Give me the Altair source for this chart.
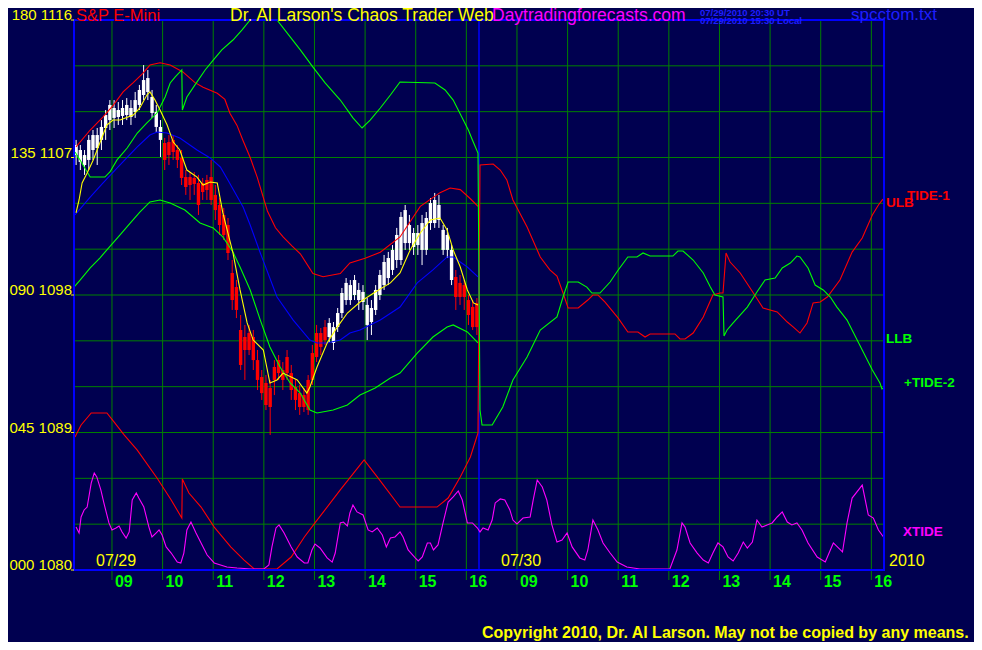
import altair as alt
import pandas as pd

# ---------------- data (clock hours, price) ----------------
ULB_DAY1 = [(8.29,1107.7),(8.57,1108.8),(8.82,1109.65),(9.02,1110.4),(9.22,1111.3),(9.42,1111.9),
            (9.61,1112.5),(9.75,1113.05),(9.95,1113.2),(10.15,1113.05),(10.40,1112.6),(10.64,1111.9),
            (10.80,1111.6),(11.08,1111.2),(11.23,1110.8),(11.33,1109.9),(11.47,1109.1),(11.59,1108.1),
            (11.73,1107.0),(11.87,1105.7),(12.07,1103.5),(12.23,1102.4),(12.38,1101.8),(12.56,1101.2),
            (12.72,1100.7),(12.97,1099.4),(13.17,1099.2),(13.51,1099.4),(13.70,1100.1),(14.00,1100.4),
            (14.30,1100.8),(14.69,1101.8),(15.09,1103.8),(15.48,1104.7),(15.68,1105.0),(15.88,1104.9),
            (16.08,1104.3),(16.23,1103.8)]

LLB_DAY1 = [(8.25,1098.52),(8.37,1098.98),(8.57,1099.77),(8.76,1100.42),(8.90,1100.95),(9.16,1101.93),
            (9.36,1102.71),(9.55,1103.43),(9.75,1104.09),(9.95,1104.22),(10.15,1104.02),(10.44,1103.56),
            (10.74,1102.71),(11.00,1102.39),(11.19,1101.80),(11.39,1100.81),(11.53,1099.83),(11.73,1098.33),
            (11.93,1096.36),(12.12,1094.60),(12.32,1093.29),(12.52,1092.24),(12.72,1091.58),(12.91,1090.47),
            (13.05,1090.28),(13.37,1090.47),(13.65,1090.80),(13.90,1091.45),(14.20,1091.91),(14.50,1092.57),
            (14.69,1092.89),(15.03,1094.20),(15.34,1095.25),(15.62,1095.90),(15.74,1096.04),(16.02,1095.58),
            (16.23,1094.86)]

BLUE_DAY1 = [(8.27,1103.24),(8.57,1104.41),(8.82,1105.33),(9.16,1106.51),(9.50,1107.69),(9.75,1108.47),
             (9.89,1108.67),(10.09,1108.60),(10.34,1108.28),(10.68,1107.49),(10.94,1106.97),(11.14,1106.38),
             (11.29,1105.53),(11.59,1103.76),(11.73,1102.58),(11.93,1100.75),(12.26,1097.87),(12.58,1096.36),
             (12.91,1095.05),(13.05,1094.86),(13.25,1094.86),(13.51,1095.05),(13.70,1095.51),(13.90,1095.71),
             (14.30,1096.36),(14.69,1097.21),(15.03,1098.79),(15.34,1099.64),(15.62,1100.49),(15.74,1100.49),
             (16.02,1099.83),(16.23,1099.18)]

YELLOW_DAY1 = [(8.29,1103.37),(8.35,1104.22),(8.41,1105.33),(8.51,1105.98),(8.63,1106.84),(8.76,1107.95),
               (8.90,1109.13),(9.02,1109.45),(9.16,1109.45),(9.42,1109.78),(9.55,1110.24),(9.69,1111.09),
               (9.75,1111.29),(9.85,1110.76),(9.95,1110.11),(10.09,1109.13),(10.21,1108.01),(10.34,1107.49),
               (10.48,1106.18),(10.68,1105.72),(10.80,1105.20),(10.94,1105.40),(11.08,1105.33),(11.19,1103.37),
               (11.39,1100.75),(11.53,1098.33),(11.67,1096.17),(11.79,1095.05),(11.99,1094.40),(12.12,1092.24),
               (12.26,1092.44),(12.38,1092.89),(12.66,1092.44),(12.85,1091.58),(12.91,1091.98),(13.05,1093.29),
               (13.25,1094.86),(13.45,1095.90),(13.65,1096.82),(13.90,1097.54),(14.20,1098.20),(14.50,1098.79),
               (14.69,1099.44),(14.89,1100.95),(15.09,1102.06),(15.29,1102.91),(15.48,1103.04),(15.62,1102.26),
               (15.74,1100.95),(15.88,1099.83),(16.02,1098.33),(16.14,1097.48),(16.23,1097.35)]

TIDE1_DAY1 = [(8.27,1088.71),(8.39,1089.49),(8.59,1090.28),(8.90,1090.28),(9.04,1089.69),(9.24,1088.84),
              (9.50,1087.85),(9.89,1086.02),(10.17,1084.58),(10.38,1083.40),(10.39,1085.96),(10.52,1085.04),
              (10.76,1084.12),(11.02,1082.81),(11.35,1081.50),(11.61,1080.65),(11.81,1080.07),(12.26,1080.07),
              (12.54,1080.85),(12.80,1082.16),(13.01,1083.08),(13.51,1085.24),(13.98,1087.20),(14.24,1086.09),
              (14.69,1084.12),(15.42,1084.12),(15.64,1084.71),(15.88,1086.09),(16.08,1087.40),(16.23,1088.97)]
TIDE1_DAY2 = [(8.27,1106.51),(8.53,1106.57),(8.67,1106.18),(8.80,1105.53),(8.92,1104.22),(9.20,1102.45),
              (9.46,1100.49),(9.65,1099.64),(9.79,1099.24),(9.91,1098.13),(10.01,1097.15),(10.21,1097.15),
              (10.40,1097.67),(10.50,1098.00),(10.60,1098.00),(10.74,1097.54),(11.00,1096.49),(11.19,1095.58),
              (11.39,1095.58),(11.53,1095.25),(11.63,1095.45),(12.12,1095.45),(12.22,1095.12),(12.32,1095.12),
              (12.48,1095.51),(12.68,1096.56),(12.87,1098.00),(13.01,1098.13),(13.07,1098.13),(13.13,1100.75),
              (13.21,1100.16),(13.41,1099.44),(13.67,1098.13),(13.86,1097.15),(14.14,1096.89),(14.34,1096.23),
              (14.46,1095.90),(14.59,1095.51),(14.73,1096.17),(14.85,1097.48),(14.99,1097.54),(15.13,1097.87),
              (15.38,1098.98),(15.62,1100.81),(15.82,1101.73),(16.02,1103.24),(16.14,1103.89),(16.23,1104.28)]

TIDE2_DAY1 = [(8.27,1107.36),(8.37,1106.84),(8.51,1106.05),(8.57,1105.72),(8.86,1105.72),(8.96,1106.05),
              (9.10,1106.84),(9.30,1107.62),(9.50,1108.60),(9.69,1109.26),(9.89,1109.91),(10.05,1110.96),
              (10.15,1111.88),(10.25,1112.27),(10.38,1112.73),(10.39,1110.11),(10.48,1110.96),(10.64,1111.75),
              (10.84,1112.73),(11.00,1113.38),(11.17,1114.04),(11.39,1114.69),(11.57,1115.35),(11.73,1116.0),
              (12.26,1116.0),(12.52,1114.89),(12.72,1114.04),(12.97,1112.92),(13.21,1111.88),(13.51,1110.76),
              (13.76,1109.59),(13.94,1108.93),(14.10,1109.45),(14.30,1110.24),(14.50,1111.09),(14.69,1111.94),
              (15.38,1111.88),(15.58,1111.42),(15.74,1110.76),(15.92,1109.59),(16.04,1108.80),(16.12,1108.15),
              (16.23,1107.29)]
TIDE2_DAY2 = [(8.27,1090.47),(8.31,1089.49),(8.51,1089.49),(8.72,1090.67),(8.92,1092.44),(9.20,1093.94),
              (9.46,1095.71),(9.79,1096.56),(9.91,1097.87),(10.01,1098.85),(10.21,1098.85),(10.38,1098.52),
              (10.48,1098.13),(10.64,1098.13),(10.84,1098.85),(11.00,1099.64),(11.19,1100.49),(11.37,1100.49),
              (11.49,1100.75),(11.63,1100.55),(12.08,1100.55),(12.18,1100.88),(12.28,1100.88),(12.48,1100.29),
              (12.68,1099.44),(12.82,1098.52),(12.91,1098.00),(13.07,1097.87),(13.09,1095.32),(13.15,1095.71),
              (13.27,1096.17),(13.55,1097.21),(13.74,1098.20),(13.90,1098.98),(14.10,1099.11),(14.24,1099.77),
              (14.40,1100.09),(14.53,1100.55),(14.59,1100.49),(14.75,1099.77),(14.89,1098.65),(15.05,1098.33),
              (15.19,1097.87),(15.32,1097.21),(15.52,1096.36),(15.72,1095.05),(15.82,1094.40),(16.02,1093.09),
              (16.17,1092.24),(16.21,1091.85),(16.27,1091.98)]

XTIDE_DAY1 = [(8.29,1082.81),(8.35,1082.42),(8.39,1083.47),(8.45,1083.93),(8.51,1084.12),(8.59,1085.69),
              (8.65,1086.35),(8.70,1086.09),(8.78,1085.24),(8.84,1084.39),(8.94,1083.08),(9.00,1082.62),
              (9.08,1082.75),(9.14,1082.88),(9.20,1082.49),(9.28,1082.09),(9.34,1082.49),(9.40,1084.58),
              (9.48,1085.04),(9.53,1084.71),(9.63,1084.12),(9.73,1082.81),(9.79,1082.16),(9.87,1082.42),
              (9.93,1082.62),(9.99,1082.29),(10.07,1081.51),(10.17,1081.11),(10.29,1080.52),(10.36,1080.46),
              (10.42,1081.11),(10.48,1082.62),(10.56,1083.14),(10.66,1082.42),(10.76,1081.77),(10.88,1080.98),
              (11.02,1080.46),(11.27,1080.20),(11.47,1080.13),(11.75,1080.07),(12.00,1080.07),(12.10,1080.33),
              (12.16,1081.51),(12.24,1082.75),(12.30,1082.95),(12.40,1082.42),(12.54,1081.51),(12.66,1080.85),
              (12.80,1080.46),(12.87,1080.46),(12.95,1081.31),(13.01,1081.70),(13.11,1081.44),(13.25,1080.79),
              (13.35,1080.52),(13.41,1081.11),(13.51,1083.08),(13.57,1083.14),(13.65,1082.88),(13.70,1083.73),
              (13.76,1084.25),(13.84,1083.80),(13.96,1083.60),(14.06,1082.62),(14.14,1082.49),(14.24,1082.75),
              (14.34,1082.29),(14.42,1081.51),(14.50,1082.09),(14.59,1082.16),(14.69,1082.49),(14.75,1082.16),
              (14.85,1081.31),(14.99,1080.79),(15.05,1080.59),(15.13,1080.85),(15.23,1081.77),(15.29,1081.77),
              (15.35,1081.31),(15.44,1081.64),(15.54,1083.08),(15.64,1084.45),(15.74,1084.78),(15.84,1085.17),
              (15.92,1084.58),(16.02,1083.08),(16.12,1083.08),(16.22,1082.75)]
XTIDE_DAY2 = [(8.27,1082.49),(8.33,1082.75),(8.43,1082.62),(8.51,1083.27),(8.57,1084.39),(8.67,1084.65),
              (8.76,1084.58),(8.86,1083.93),(8.92,1083.27),(9.00,1083.01),(9.12,1083.40),(9.26,1083.47),
              (9.32,1084.58),(9.40,1085.89),(9.50,1085.43),(9.59,1084.58),(9.69,1082.95),(9.79,1081.83),
              (9.89,1081.96),(9.99,1082.42),(10.09,1081.51),(10.24,1080.79),(10.34,1080.65),(10.40,1081.31),
              (10.50,1083.27),(10.60,1082.62),(10.70,1081.77),(10.84,1081.11),(10.98,1080.52),(11.17,1080.20),
              (11.43,1080.07),(12.02,1080.07),(12.16,1081.31),(12.26,1083.08),(12.32,1082.81),(12.42,1081.77),
              (12.56,1081.11),(12.68,1080.65),(12.78,1080.46),(12.87,1081.11),(12.97,1081.77),(13.07,1081.51),
              (13.17,1080.85),(13.27,1080.59),(13.37,1081.11),(13.47,1081.83),(13.55,1081.44),(13.65,1081.83),
              (13.74,1083.27),(13.84,1082.81),(13.94,1082.95),(14.04,1083.08),(14.14,1083.47),(14.24,1083.80),
              (14.34,1083.14),(14.43,1082.95),(14.53,1083.08),(14.63,1082.62),(14.75,1081.77),(14.93,1080.85),
              (15.09,1080.52),(15.19,1081.31),(15.25,1081.77),(15.43,1081.18),(15.52,1083.08),(15.62,1084.71),
              (15.82,1085.56),(15.94,1083.60),(16.04,1083.40),(16.14,1082.62),(16.24,1082.16)]

# 5-minute bars of 07/29 (open, high, low, close)
BAR_OPEN = [1107.16,1106.71,1106.51,1106.84,1107.49,1107.62,1108.15,1108.93,1109.45,1109.59,1109.65,1109.72,
            1109.78,1109.65,1109.98,1110.44,1111.09,1111.29,1109.91,1109.00,1108.15,1107.95,1108.01,1108.15,
            1107.49,1106.97,1105.72,1105.72,1105.66,1105.33,1105.33,1105.53,1105.72,1104.55,1103.89,1103.24,
            1102.58,1099.44,1098.52,1095.71,1095.25,1095.51,1095.25,1093.74,1092.63,1092.24,1091.91,1093.29,
            1093.74,1093.09,1093.94,1092.89,1091.98,1091.58,1091.45,1092.44,1094.20,1095.51,1095.51,1095.90,
            1095.25,1094.86,1095.90,1096.82,1097.67,1097.67,1098.00,1097.67,1097.54,1096.04,1096.23,1097.02,
            1098.00,1098.65,1099.11,1099.64,1100.29,1100.29,1101.40,1101.40,1101.14,1101.27,1100.95,1100.95,
            1102.71,1102.71,1102.91,1100.95,1100.95,1098.98,1099.18,1098.79,1098.65,1097.67,1097.22,1097.48]
BAR_HIGH = [1108.15,1107.82,1107.49,1108.47,1108.80,1108.93,1109.45,1110.11,1110.76,1110.76,1110.63,1110.76,
            1110.89,1110.76,1111.29,1111.75,1113.05,1112.73,1111.42,1110.44,1109.45,1108.28,1108.47,1108.47,
            1107.82,1107.49,1106.18,1106.05,1106.05,1105.86,1105.66,1105.86,1106.84,1105.20,1104.35,1103.70,
            1103.04,1100.29,1098.98,1096.69,1096.04,1096.04,1095.71,1094.40,1093.09,1092.76,1092.44,1093.74,
            1094.07,1093.61,1094.40,1093.42,1092.44,1092.11,1091.91,1092.76,1094.73,1096.04,1095.84,1096.36,
            1096.49,1096.23,1097.15,1098.46,1099.11,1098.98,1099.31,1098.79,1098.65,1097.80,1097.67,1098.65,
            1099.64,1100.62,1100.82,1101.27,1102.39,1103.43,1103.89,1103.24,1102.39,1102.58,1103.24,1103.43,
            1104.35,1104.68,1104.55,1102.58,1102.39,1101.27,1099.64,1099.31,1098.98,1098.00,1097.67,1097.80]
BAR_LOW = [1106.51,1106.18,1105.86,1106.18,1106.84,1106.51,1107.49,1108.15,1108.80,1108.93,1109.13,1109.13,
           1109.45,1109.13,1109.59,1110.11,1110.76,1110.76,1109.59,1108.67,1107.03,1106.18,1106.51,1106.84,
           1106.31,1105.20,1104.55,1104.22,1104.55,1103.24,1104.22,1104.22,1103.89,1102.91,1101.93,1101.60,
           1100.29,1097.02,1096.49,1093.09,1092.44,1094.07,1093.09,1091.78,1091.13,1090.47,1088.84,1091.45,
           1092.44,1091.78,1092.44,1091.13,1090.47,1090.15,1090.34,1090.15,1092.11,1093.61,1094.07,1094.73,
           1094.92,1094.40,1095.58,1096.49,1097.35,1097.35,1097.67,1097.02,1097.02,1095.05,1095.38,1096.69,
           1097.67,1098.33,1098.65,1099.31,1099.77,1099.96,1100.95,1100.95,1100.62,1100.62,1099.96,1100.62,
           1102.26,1102.39,1102.39,1100.62,1100.42,1098.65,1097.02,1097.35,1097.02,1096.04,1095.71,1095.38]
BAR_CLOSE = [1107.82,1107.49,1107.16,1108.15,1108.47,1108.47,1109.00,1109.78,1110.44,1110.24,1110.11,1110.24,
             1110.44,1110.24,1110.76,1111.42,1112.07,1112.20,1110.96,1109.98,1109.00,1106.84,1107.16,1107.36,
             1106.84,1105.66,1105.07,1105.20,1105.27,1103.89,1104.74,1104.87,1104.22,1103.56,1102.58,1101.93,
             1100.75,1097.67,1097.02,1093.42,1094.40,1094.40,1093.74,1092.44,1091.58,1090.80,1090.67,1092.44,
             1092.89,1092.44,1092.89,1091.78,1091.13,1090.67,1090.67,1090.47,1092.44,1093.94,1094.60,1095.05,
             1096.17,1095.90,1096.82,1098.13,1098.79,1098.65,1098.98,1098.33,1098.20,1097.35,1097.15,1098.33,
             1099.31,1100.16,1100.42,1100.95,1101.93,1103.11,1103.56,1102.58,1102.06,1102.06,1102.71,1103.04,
             1104.02,1104.22,1103.89,1102.26,1101.93,1100.95,1097.87,1097.87,1097.87,1096.69,1095.90,1095.90]

HOUR_LABELS = ["09", "10", "11", "12", "13", "14", "15", "16"]
HOUR_VALUES = [9, 10, 11, 12, 13, 14, 15, 16]
PRICE_GRID = [1083, 1086, 1089, 1092, 1095, 1098, 1101, 1104, 1107, 1110, 1113]
LEFT_TIDE = ["000", "045", "090", "135", "180"]
LEFT_PRICE = [1080, 1089, 1098, 1107, 1116]

SESSION_START = 8.25   # 08:15, session length 8 hours

# ---------------- frames ----------------
def to_t(h, day):
    return h - SESSION_START + 8 * (day - 1)

rows = []
def add(name, color, parts):
    i = 0
    for day, pts in parts:
        for h, p in pts:
            rows.append({"series": name, "color": color, "idx": i, "t": to_t(h, day), "price": p})
            i += 1

add("ULB", "#FF0000", [(1, ULB_DAY1)])
add("LLB", "#00FF00", [(1, LLB_DAY1)])
add("TIDE-1", "#FF0000", [(1, TIDE1_DAY1), (2, TIDE1_DAY2)])
add("TIDE-2", "#00FF00", [(1, TIDE2_DAY1), (2, TIDE2_DAY2)])
add("XTIDE", "#FF00FF", [(1, XTIDE_DAY1), (2, XTIDE_DAY2)])
add("AVG2", "#0000FF", [(1, BLUE_DAY1)])
add("AVG1", "#FFFF00", [(1, YELLOW_DAY1)])
lines_df = pd.DataFrame(rows)

bars_df = pd.DataFrame({
    "t": [(k + 0.5) / 12 for k in range(len(BAR_OPEN))],
    "open": BAR_OPEN, "high": BAR_HIGH, "low": BAR_LOW, "close": BAR_CLOSE,
})
bars_df["color"] = ["#FFFFFF" if c >= o else "#FF0000" for o, c in zip(BAR_OPEN, BAR_CLOSE)]

hours_df = pd.DataFrame({
    "t": [to_t(h, d) for d in (1, 2) for h in HOUR_VALUES],
    "label": [l for d in (1, 2) for l in HOUR_LABELS],
})
pgrid_df = pd.DataFrame({"price": PRICE_GRID})
left_df = pd.DataFrame({"price": LEFT_PRICE,
                        "label": [a + " " + str(b) for a, b in zip(LEFT_TIDE, LEFT_PRICE)]})

# ---------------- chart ----------------
W, H = 810, 550
xs = alt.Scale(domain=[0, 16], nice=False, zero=False)
ys = alt.Scale(domain=[1080, 1116], nice=False, zero=False)
X = lambda f="t": alt.X(f"{f}:Q", scale=xs, axis=None)
Y = lambda f="price": alt.Y(f"{f}:Q", scale=ys, axis=None)

REG = "Liberation Sans, Arial, sans-serif"
GRID = "#008000"

vgrid = alt.Chart(hours_df).mark_rule(color=GRID, strokeWidth=1).encode(x=X())
hgrid = alt.Chart(pgrid_df).mark_rule(color=GRID, strokeWidth=1).encode(y=Y())
ticks = alt.Chart(hours_df).mark_rule(color=GRID, strokeWidth=1).encode(
    x=X(), y=alt.value(H), y2=alt.value(H + 10))
hour_txt = alt.Chart(hours_df).mark_text(
    align="left", baseline="alphabetic", dx=3, font=REG, fontSize=16, fontWeight="bold",
    color="#00FF00").encode(x=X(), y=alt.value(H + 17), text="label:N")
sep = alt.Chart(pd.DataFrame({"t": [8.0]})).mark_rule(color="#0000FF", strokeWidth=1.5).encode(x=X())

wicks = alt.Chart(bars_df).mark_rule(strokeWidth=1, clip=True).encode(
    x=X(), y=Y("low"), y2="high:Q", color=alt.Color("color:N", scale=None))
bodies = alt.Chart(bars_df).mark_rule(strokeWidth=3.4, clip=True).encode(
    x=X(), y=Y("open"), y2="close:Q", color=alt.Color("color:N", scale=None))

lines = alt.Chart(lines_df).mark_line(strokeWidth=1.1, clip=True).encode(
    x=X(), y=Y(), color=alt.Color("color:N", scale=None),
    detail="series:N", order="idx:Q")

left_txt = alt.Chart(left_df).mark_text(
    align="right", baseline="alphabetic", dx=-2, font=REG, fontSize=15, color="#FFFF00").encode(
    x=alt.value(0), y=Y(), text="label:N")
left_tick = alt.Chart(left_df).mark_rule(color="#FFFF00", strokeWidth=1).encode(
    x=alt.value(-3), x2=alt.value(0), y=Y())

border = alt.Chart(pd.DataFrame({"a": [0]})).mark_rect(
    fill=None, stroke="#0000FF", strokeWidth=2).encode(
    x=alt.value(0), x2=alt.value(W), y=alt.value(0), y2=alt.value(H))

def txt(s, x, y, color, size, weight="normal"):
    return alt.Chart(pd.DataFrame({"a": [0]})).mark_text(
        text=s, align="left", baseline="alphabetic", font=REG, fontSize=size,
        fontWeight=weight, color=color).encode(x=alt.value(x), y=alt.value(y))

texts = [
    txt("S&P E-Mini", 2, 0.5, "#FF0000", 16.5),
    txt("Dr. Al Larson's Chaos Trader Web", 156, 0.5, "#FFFF00", 17.5),
    txt("Daytradingforecasts.com", 418, 0.5, "#FF00FF", 17.5),
    txt("07/29/2010 20:30 UT", 626, -4.5, "#1E1EFF", 9.5, weight="bold"),
    txt("07/29/2010 15:30 Local", 626, 4, "#1E1EFF", 9.5, weight="bold"),
    txt("spcctom.txt", 777, 0, "#1E1EFF", 17),
    txt("07/29", 22, 546, "#FFFF00", 16),
    txt("07/30", 427, 546, "#FFFF00", 16),
    txt("2010", 815, 546, "#FFFF00", 16),
    txt("ULB", 812, 187, "#FF0000", 13.5, weight="bold"),
    txt("TIDE-1", 833, 180, "#FF0000", 13.5, weight="bold"),
    txt("LLB", 812, 323, "#00FF00", 13.5, weight="bold"),
    txt("+TIDE-2", 830, 367, "#00FF00", 13.5, weight="bold"),
    txt("XTIDE", 829, 516, "#FF00FF", 13.5, weight="bold"),
    txt("Copyright 2010, Dr. Al Larson. May not be copied by any means.", 408, 618, "#FFFF00", 16,
        weight="bold"),
]

chart = alt.layer(
    hgrid, vgrid, ticks, sep, wicks, bodies, lines, border, left_tick, left_txt, hour_txt, *texts
).properties(
    width=W, height=H,
    autosize=alt.AutoSizeParams(type="none"),
    padding={"left": 66, "top": 12, "right": 90, "bottom": 72},
    background="#000050",
).configure_view(strokeWidth=0)

chart.save("out.html", embed_options={"renderer": "svg", "actions": False})
